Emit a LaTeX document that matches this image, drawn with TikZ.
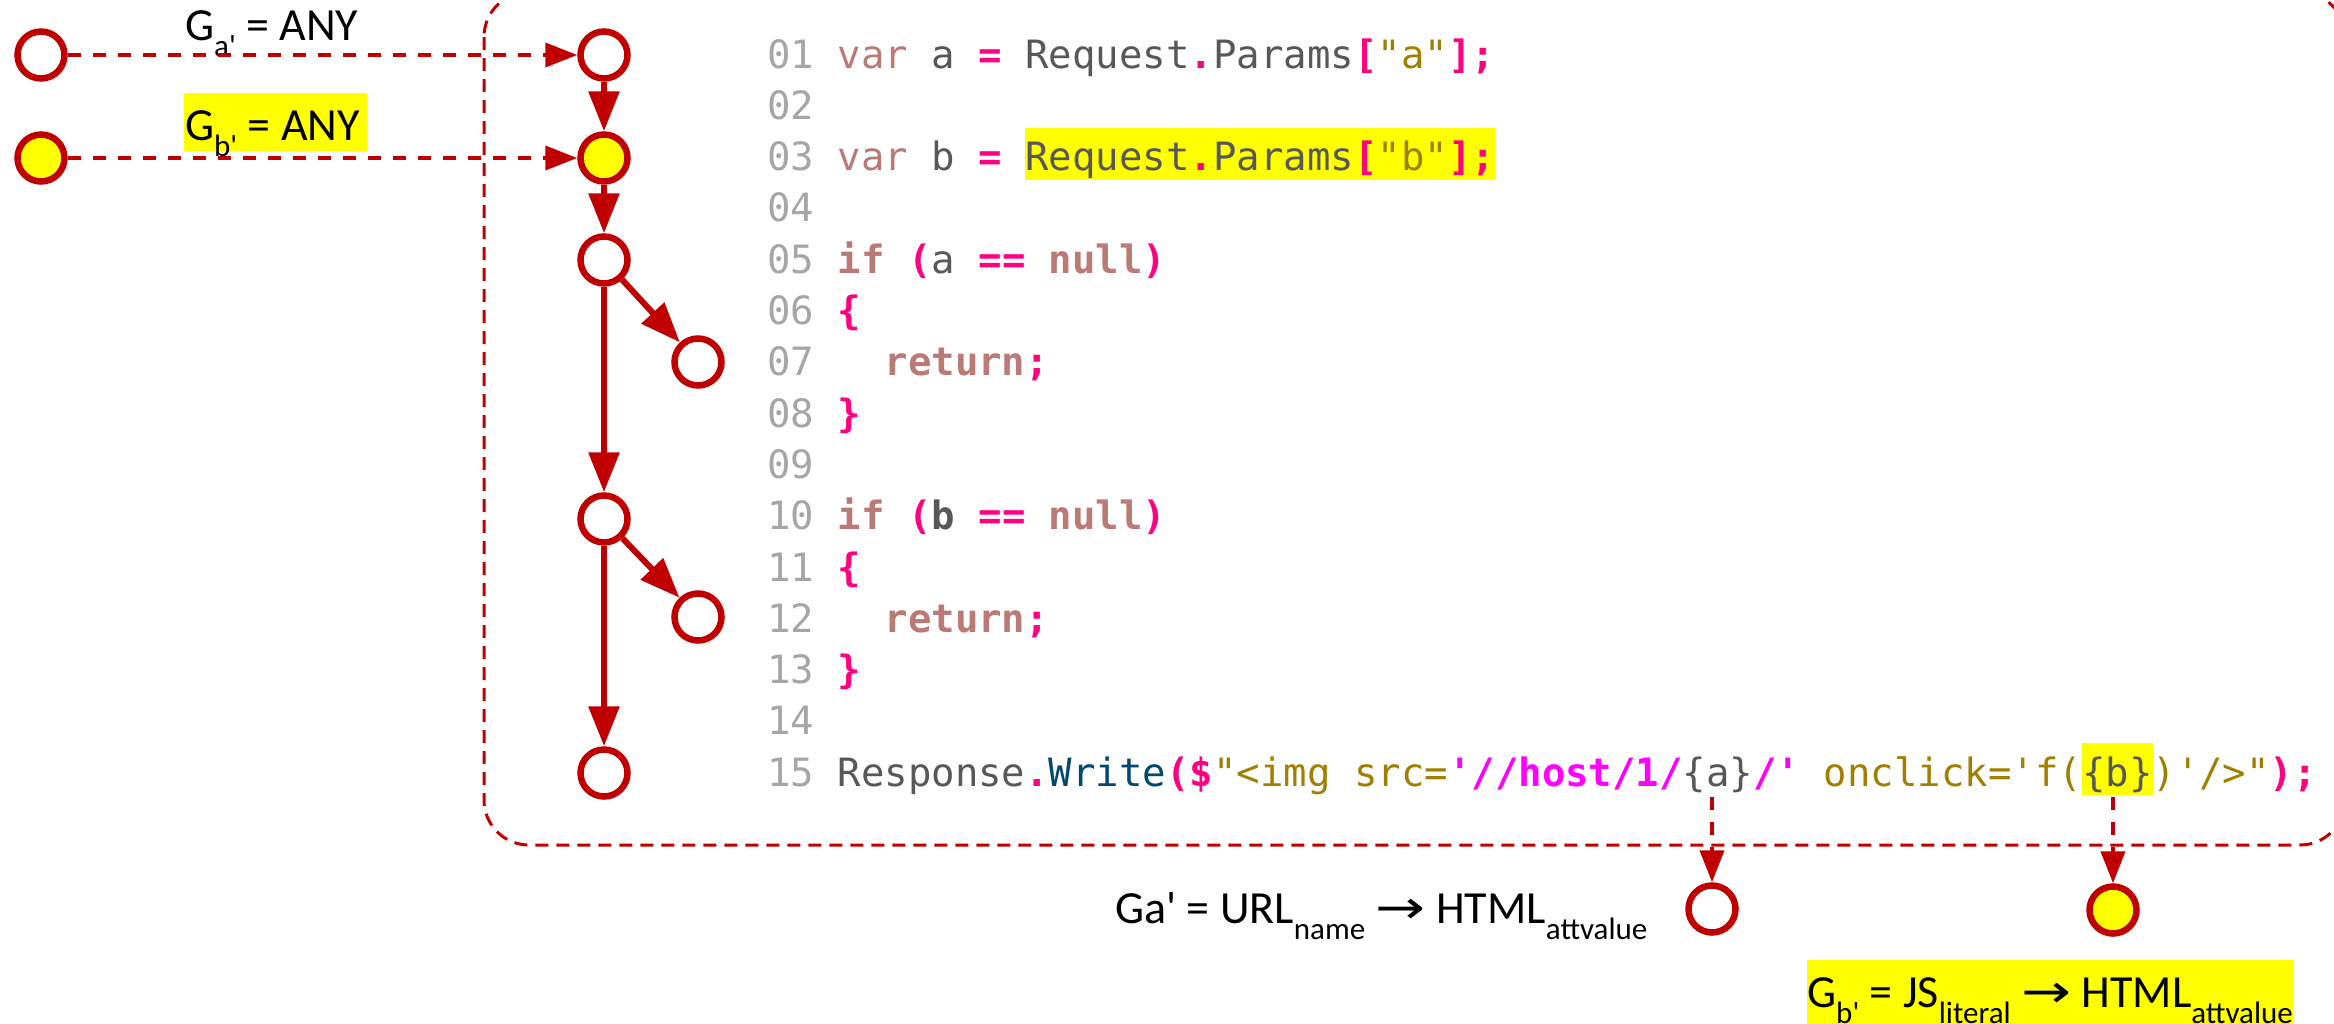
\documentclass[tikz,border=0pt]{standalone}
\usepackage{fontspec}
\setmonofont{DejaVu Sans Mono}
\newfontfamily\lblfont{Carlito}
\newfontfamily\arrfont{DejaVu Sans}
\usetikzlibrary{arrows.meta}
\definecolor{dred}{RGB}{192,0,0}
\definecolor{hly}{RGB}{255,255,0}
\definecolor{lnum}{RGB}{166,166,166}
\definecolor{kwc}{RGB}{186,122,117}
\definecolor{idc}{RGB}{88,88,88}
\definecolor{opc}{RGB}{255,0,128}
\definecolor{strc}{RGB}{160,128,0}
\definecolor{magc}{RGB}{255,0,255}
\definecolor{mtc}{RGB}{0,72,110}
\newcommand\cLN[1]{\textcolor{lnum}{#1}}
\newcommand\cKR[1]{\textcolor{kwc}{#1}}
\newcommand\cKB[1]{\textcolor{kwc}{\bfseries #1}}
\newcommand\cID[1]{\textcolor{idc}{#1}}
\newcommand\cIB[1]{\textcolor{idc}{\bfseries #1}}
\newcommand\cOP[1]{\textcolor{opc}{\bfseries #1}}
\newcommand\cST[1]{\textcolor{strc}{#1}}
\newcommand\cMG[1]{\textcolor{magc}{\bfseries #1}}
\newcommand\cMT[1]{\textcolor{mtc}{#1}}
\newcommand\codehl[1]{{\setlength{\fboxsep}{0pt}\colorbox{hly}{\rule[-9pt]{0pt}{52pt}#1}}}
\newcommand\lowtxt[1]{\raisebox{-16pt}{\fontsize{31}{31}\selectfont #1}}
\newcommand\larr{{\arrfont\scalebox{1.3}[1]{→}}}
\newcommand\lblhl[1]{{\setlength{\fboxsep}{0pt}\colorbox{hly}{\rule[-11pt]{0pt}{58pt}#1}}}
\newcommand\lblhldeep[1]{{\setlength{\fboxsep}{0pt}\colorbox{hly}{\rule[-22pt]{0pt}{69pt}#1}}}
\tikzset{
  circ/.style={circle, draw=dred, line width=6.5pt, minimum size=47pt, inner sep=0pt, fill=white},
  ycirc/.style={circ, fill=hly},
  flow/.style={draw=dred, line width=6pt, -{Triangle[length=40pt,width=30pt]}},
  dflow/.style={draw=dred, line width=4pt, dash pattern=on 13pt off 12pt, -{Triangle[length=32pt,width=24pt]}},
  boxst/.style={draw=dred, line width=3pt, dash pattern=on 13pt off 8pt, rounded corners=45pt},
  codeline/.style={anchor=base west, inner sep=0pt, font=\ttfamily\fontsize{39}{39}\selectfont},
  lbl/.style={anchor=base west, inner sep=0pt, text=black, font=\lblfont\fontsize{46}{46}\selectfont}
}
\begin{document}
\begin{tikzpicture}[x=1pt,y=-1pt]
\path[use as bounding box] (0,0) rectangle (2334,1023);
\clip (0,0) rectangle (2334,1023);
% dashed code frame
\draw[boxst] (484,-8) rectangle (2345,845);
% code
\node[codeline] (l01) at (767,68) {\cLN{01} \cKR{var} \cID{a} \cOP{=} \cID{Request}\cOP{.}\cID{Params}\cOP{[}\cST{"a"}\cOP{];}};
\node[codeline] (l02) at (767,119.3) {\cLN{02}};
\node[codeline] (l03) at (767,170.6) {\cLN{03} \cKR{var} \cID{b} \cOP{=} \codehl{\cID{Request}\cOP{.}\cID{Params}\cOP{[}\cST{"b"}\cOP{];}}};
\node[codeline] (l04) at (767,221.9) {\cLN{04}};
\node[codeline] (l05) at (767,273.2) {\cLN{05} \cKB{if} \cOP{(}\cID{a} \cOP{==} \cKB{null}\cOP{)}};
\node[codeline] (l06) at (767,324.5) {\cLN{06} \cOP{\{}};
\node[codeline] (l07) at (767,375.8) {\cLN{07}\ \ \ \cKB{return}\cOP{;}};
\node[codeline] (l08) at (767,427.1) {\cLN{08} \cOP{\}}};
\node[codeline] (l09) at (767,478.4) {\cLN{09}};
\node[codeline] (l10) at (767,529.7) {\cLN{10} \cKB{if} \cOP{(}\cIB{b} \cOP{==} \cKB{null}\cOP{)}};
\node[codeline] (l11) at (767,581) {\cLN{11} \cOP{\{}};
\node[codeline] (l12) at (767,632.3) {\cLN{12}\ \ \ \cKB{return}\cOP{;}};
\node[codeline] (l13) at (767,683.6) {\cLN{13} \cOP{\}}};
\node[codeline] (l14) at (767,734.9) {\cLN{14}};
\node[codeline] (l15) at (767,786.2) {\cLN{15} \cID{Response}\cOP{.}\cMT{Write}\cOP{(\$}\cST{"<img src=}\cMG{'//host/1/}\cID{\{a\}}\cMG{/'}\ \cST{onclick='f(}\codehl{\cID{\{b\}}}\cST{)'/>"}\cOP{);}};
% left sources
\node[circ] (la) at (41,55) {};
\node[ycirc] (lb) at (41,158) {};
% flow graph
\node[circ] (c1) at (604,55) {};
\node[ycirc] (c2) at (604,158) {};
\node[circ] (c3) at (604,260) {};
\node[circ] (c4) at (698,362) {};
\node[circ] (c5) at (604,519) {};
\node[circ] (c6) at (698,617) {};
\node[circ] (c7) at (604,773) {};
% sinks
\node[circ] (ba) at (1712,909) {};
\node[ycirc] (bb) at (2113,910) {};
\coordinate (sa) at (1712,797);
\coordinate (sb) at (2113,797);
% labels
\node[lbl] (ga) at (185,40) {G\lowtxt{a'} = ANY};
\node[lbl] (gb) at (184,140) {\lblhl{\hspace{1pt}G\smash{\lowtxt{b'}} = ANY\hspace{7pt}}};
\node[lbl] (gab) at (1115,923) {Ga' = URL\lowtxt{name} \larr{} HTML\lowtxt{attvalue}};
\node[lbl] (gbb) at (1807,1007) {\lblhldeep{G\smash{\lowtxt{b'}} = JS\smash{\lowtxt{literal}} \larr{} HTML\smash{\lowtxt{attvalue}}}};
% connectors
\draw[dflow] (la) -- (c1);
\draw[dflow] (lb) -- (c2);
\draw[flow] (c1) -- (c2);
\draw[flow] (c2) -- (c3);
\draw[flow] (c3) -- (c4);
\draw[flow] (c3) -- (c5);
\draw[flow] (c5) -- (c6);
\draw[flow] (c5) -- (c7);
\draw[dflow] (sa) -- (ba);
\draw[dflow] (sb) -- (bb);
\end{tikzpicture}
\end{document}
